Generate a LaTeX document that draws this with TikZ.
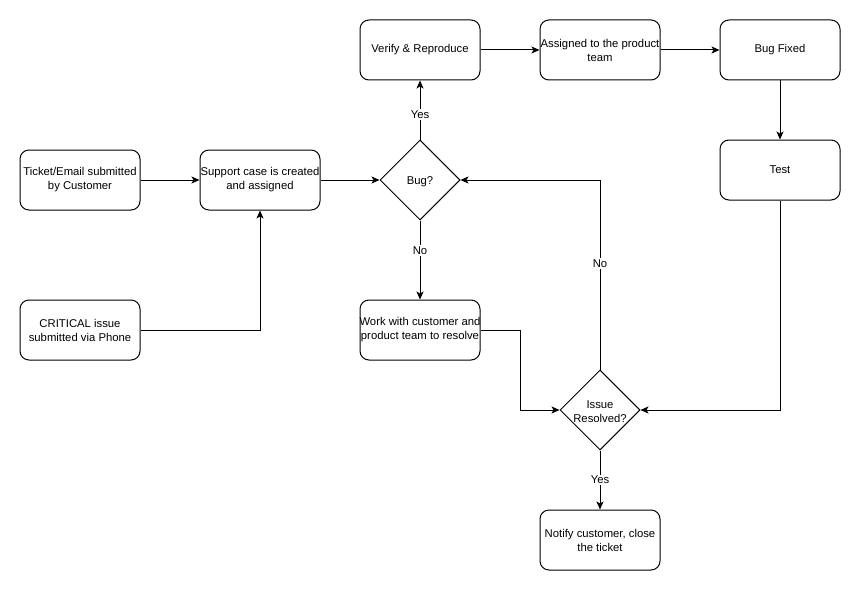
\documentclass[tikz,border=0pt]{standalone}
\usepackage{fontspec}
\setmainfont{Liberation Sans}
\usetikzlibrary{shapes.geometric,arrows.meta}
\begin{document}
\begin{tikzpicture}[x=1pt,y=-1pt,
  every node/.style={font=\fontsize{11.3}{14}\selectfont},
  box/.style={draw,line width=1pt,rounded corners=9pt,minimum width=120pt,minimum height=60pt,inner xsep=-10pt,inner ysep=0pt,align=center},
  dia/.style={draw,line width=1pt,shape=diamond,minimum width=80pt,minimum height=80pt,inner sep=0pt},
  arr/.style={line width=1pt,-{Stealth[length=8pt,width=7pt,inset=2pt]}},
  lbl/.style={fill=white,inner sep=1.5pt}
]
\useasboundingbox (0,0) rectangle (861,591);
\fill[white] (0,0) rectangle (861,591);

\node[box] (ticket) at (80,180) {Ticket/Email submitted\\by Customer};
\node[box] (support) at (260,180) {Support case is created\\and assigned};
\node[box] (crit) at (80,330) {CRITICAL issue\\submitted via Phone};
\node[dia,label={[align=center,font=\fontsize{11.3}{14}\selectfont,yshift=-1.5pt]center:Bug?}] (bug) at (420,180) {};
\node[box] (verify) at (420,50) {Verify \& Reproduce};
\node[box] (assigned) at (600,50) {Assigned to the product\\team};
\node[box] (fixed) at (780,50) {Bug Fixed};
\node[box] (test) at (780,170) {Test};
\node[box] (work) at (420,330) {Work with customer and\\product team to resolve};
\node[dia,label={[align=center,font=\fontsize{11.3}{14}\selectfont,yshift=-1.5pt]center:Issue\\Resolved?}] (ir) at (600,410) {};
\node[box] (notify) at (600,540) {Notify customer, close\\the ticket};

\draw[arr] (ticket.east) -- (support.west);
\draw[arr] (crit.east) -| (support.south);
\draw[arr] (support.east) -- (bug.west);
\draw[arr] (bug.north) -- node[lbl,pos=0.42] (lyes1) {Yes} (verify.south);
\draw[arr] (bug.south) -- node[lbl,pos=0.38] (lno1) {No} (work.north);
\draw[arr] (verify) -- (assigned);
\draw[arr] (assigned) -- (fixed);
\draw[arr] (fixed) -- (test);
\draw[arr] (work.east) -- ++(40,0) |- (ir.west);
\draw[arr] (test.south) |- (ir.east);
\draw[arr] (ir.north) -- node[lbl,pos=0.56] (lno2) {No} (600,180) -- (bug.east);
\draw[arr] (ir.south) -- node[lbl,pos=0.5] (lyes2) {Yes} (notify.north);
\end{tikzpicture}
\end{document}
